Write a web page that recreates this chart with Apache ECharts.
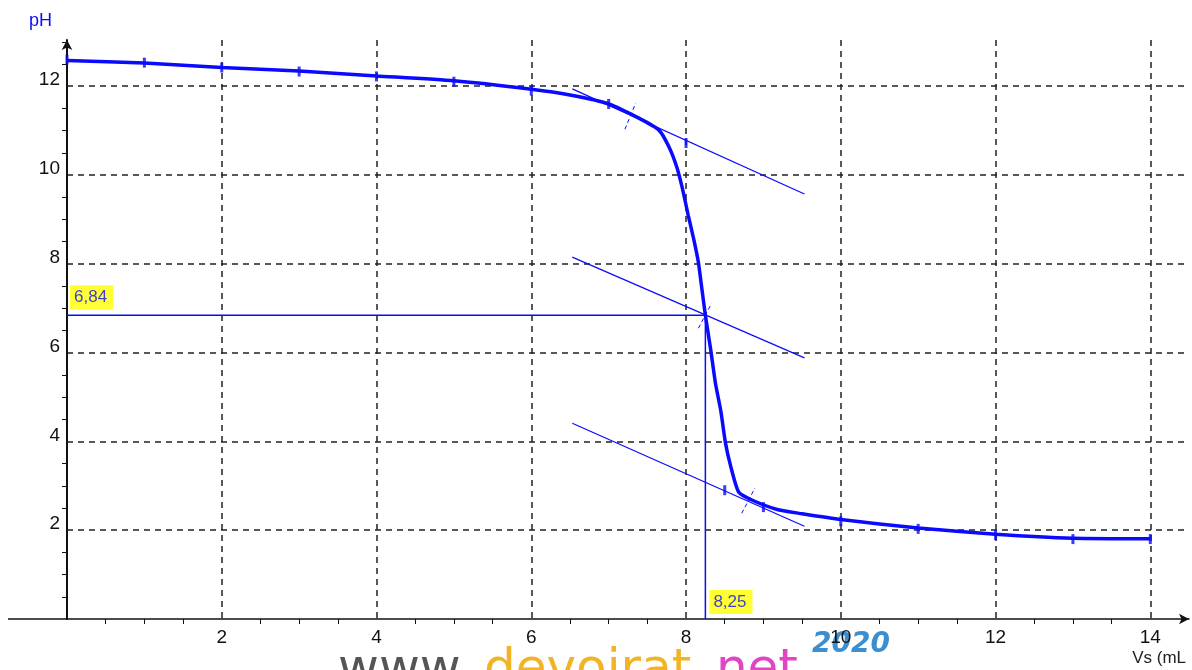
<!DOCTYPE html>
<html lang="fr">
<head>
<meta charset="utf-8">
<title>Dosage pH-metrique</title>
<script src="https://cdn.jsdelivr.net/npm/echarts@6/dist/echarts.min.js"></script>
<style>html,body{margin:0;padding:0;background:#fff;} #main{width:1192px;height:670px;}</style>
</head>
<body>
<div id="main"></div>
<script type="text/javascript">
// courbe pH = f(Vs) (lissee)
var vsCurve = [0, 1, 2, 3, 4, 5, 6, 6.5, 7, 7.39, 7.65, 7.78, 7.88, 7.95, 8.03, 8.10, 8.16, 8.20, 8.25, 8.32, 8.38, 8.45, 8.51, 8.58, 8.68, 8.85, 9.19, 9.5, 10, 11, 12, 13, 14];
var phCurve = [12.58, 12.52, 12.42, 12.34, 12.23, 12.12, 11.93, 11.8, 11.6, 11.28, 11.01, 10.63, 10.18, 9.72, 9.08, 8.55, 8.03, 7.50, 6.84, 6.05, 5.31, 4.68, 3.96, 3.42, 2.86, 2.68, 2.46, 2.37, 2.24, 2.05, 1.91, 1.82, 1.81];
// points de mesure
var vsPts = [0, 1, 2, 3, 4, 5, 6, 7, 8, 8.5, 9, 10, 11, 12, 13, 14];
var phPts = [12.6, 12.53, 12.42, 12.33, 12.22, 12.1, 11.9, 11.6, 10.72, 2.9, 2.52, 2.2, 2.03, 1.89, 1.8, 1.8];
// methode des tangentes
var tanHaut = [[6.53, 11.94], [9.53, 9.57]];
var tanMilieu = [[6.53, 8.15], [9.53, 5.88]];
var tanBas = [[6.53, 4.41], [9.53, 2.09]];
var perpHaut = [[7.21, 11.03], [7.35, 11.62]];
var perpMilieu = [[8.16, 6.55], [8.33, 7.11]];
var perpBas = [[8.72, 2.38], [8.89, 2.95]];
// point d'equivalence
var eqVs = 8.25;
var eqPH = 6.84;
// graduations
var xLabels = [2, 4, 6, 8, 10, 12, 14];
var yLabels = [2, 4, 6, 8, 10, 12];

var bleu = '#0a0aff';
var dom = document.getElementById('main');
var myChart = echarts.init(dom);

var courbe = [];
for (var i = 0; i < vsCurve.length; i++) courbe.push([vsCurve[i], phCurve[i]]);
var mesures = [];
for (var i = 0; i < vsPts.length; i++) mesures.push([vsPts[i], phPts[i]]);

var series = [];
[tanHaut, tanMilieu, tanBas].forEach(function (t) {
    series.push({type: 'line', data: t, showSymbol: false, silent: true,
        lineStyle: {color: bleu, width: 1.2}, z: 3});
});
[perpHaut, perpMilieu, perpBas].forEach(function (t) {
    series.push({type: 'line', data: t, showSymbol: false, silent: true,
        lineStyle: {color: bleu, width: 1, type: [4, 3]}, z: 3});
});
// lignes de lecture
series.push({type: 'line', data: [[0, eqPH], [eqVs, eqPH], [eqVs, 0]], showSymbol: false,
    lineStyle: {color: bleu, width: 1.5}, z: 4});
series.push({type: 'line', data: courbe, showSymbol: false, smooth: 0.2,
    lineStyle: {color: bleu, width: 3.5}, z: 5});
series.push({type: 'scatter', data: mesures, symbol: 'rect', symbolSize: [3, 10],
    itemStyle: {color: bleu}, z: 6});
// etiquettes jaunes
var etiq = {color: bleu, fontSize: 17, fontFamily: 'Liberation Sans, Arial, sans-serif',
    backgroundColor: '#ffff00', padding: [4, 6, 3, 4], show: true};
series.push({type: 'scatter', symbolSize: 0, z: 7, silent: true,
    data: [
        {value: [0, eqPH], label: Object.assign({}, etiq, {position: [3, -30], formatter: String(eqPH).replace('.', ',')})},
        {value: [eqVs, 0], label: Object.assign({}, etiq, {position: [4, -29], formatter: String(eqVs).replace('.', ',')})}
    ]});

var police = 'Liberation Sans, Arial, sans-serif';
option = {
    animation: false,
    backgroundColor: '#fff',
    grid: {left: 67, right: 0, top: 40, bottom: 51},
    xAxis: {
        type: 'value', min: 0, max: 14.5, interval: 2,
        name: 'Vs (mL', nameLocation: 'end', nameGap: -3,
        nameTextStyle: {color: '#222', fontSize: 17, fontFamily: police, align: 'right', verticalAlign: 'top', padding: [31, 0, 0, 0]},
        axisLine: {lineStyle: {color: '#111', width: 1.5}, symbol: ['none', 'arrow'], symbolSize: [8, 10]},
        axisTick: {show: false},
        minorTick: {show: true, splitNumber: 4, length: 5, lineStyle: {color: '#111', width: 1}},
        axisLabel: {color: '#111', fontSize: 19, fontFamily: police, margin: 9,
            formatter: function (v) { return xLabels.indexOf(v) >= 0 ? String(v) : ''; }},
        splitLine: {show: true, showMinLine: false, showMaxLine: false,
            lineStyle: {color: '#222', type: [6, 5], width: 1.5}}
    },
    yAxis: {
        type: 'value', min: 0, max: 13.04, interval: 2,
        name: 'pH', nameLocation: 'end', nameGap: 10,
        nameTextStyle: {color: bleu, fontSize: 18, fontFamily: police, align: 'right', padding: [0, 15, 0, 0]},
        axisLine: {lineStyle: {color: '#111', width: 2}, symbol: ['none', 'arrow'], symbolSize: [8, 10]},
        axisTick: {show: false},
        minorTick: {show: true, splitNumber: 4, length: 5, lineStyle: {color: '#111', width: 1}},
        axisLabel: {color: '#111', fontSize: 19, fontFamily: police, margin: 7,
            verticalAlign: 'bottom', lineHeight: 12,
            formatter: function (v) { return yLabels.indexOf(v) >= 0 ? String(v) : ''; }},
        splitLine: {show: true, showMinLine: false, showMaxLine: false,
            lineStyle: {color: '#222', type: [6, 5], width: 1.5}}
    },
    series: series
};

if (option && typeof option === "object") {
    myChart.setOption(option, true);
}

// prolongement de l'axe des abscisses a gauche + filigrane
var o = myChart.convertToPixel({gridIndex: 0}, [0, 0]);
var wm = 'Comic Sans MS, DejaVu Sans, sans-serif';
myChart.setOption({
    graphic: [
        {type: 'line', shape: {x1: 8, y1: o[1], x2: o[0], y2: o[1]}, style: {stroke: '#111', lineWidth: 1.5}, silent: true},
        {type: 'text', left: 338, top: 646, style: {text: 'www.', fill: '#555', font: '50px ' + wm}, silent: true},
        {type: 'text', left: 484, top: 646, style: {text: 'devoirat', fill: '#f2b424', font: '50px ' + wm}, silent: true},
        {type: 'text', left: 700, top: 646, style: {text: '.net', fill: '#e046c4', font: '50px ' + wm}, silent: true},
        {type: 'text', left: 812, top: 631, style: {text: '2020', fill: '#3b8fd0', font: 'italic bold 28px ' + wm}, silent: true}
    ]
});
</script>
</body>
</html>
